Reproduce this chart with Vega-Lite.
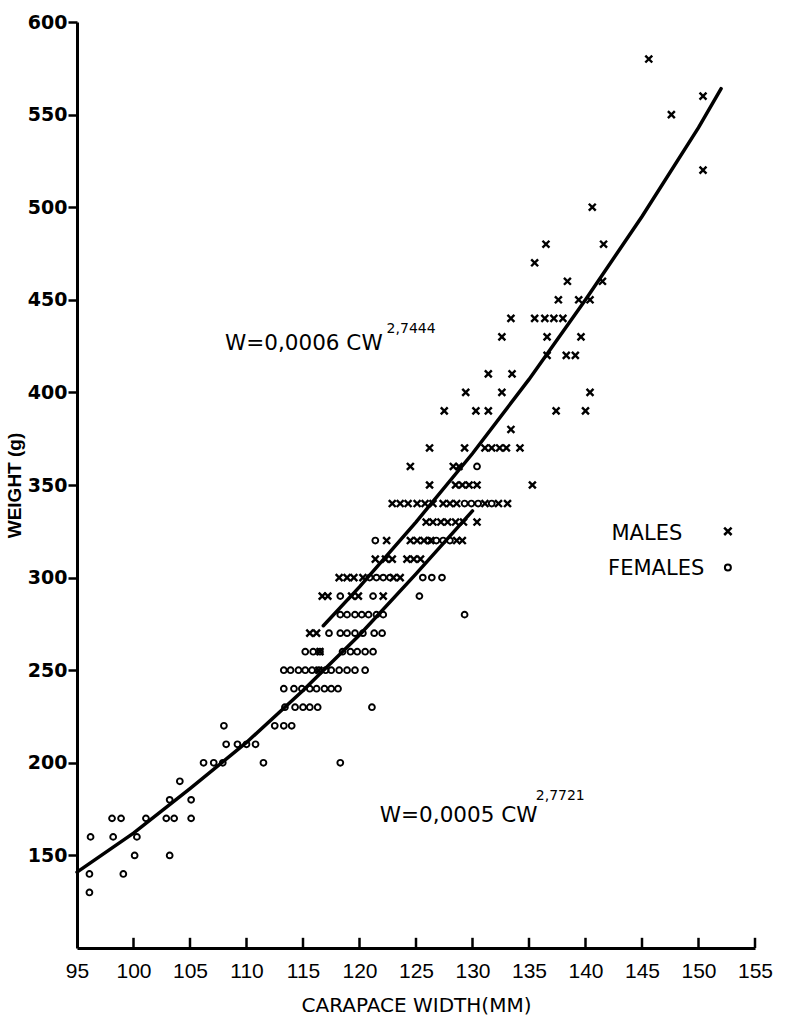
{
  "$schema": "https://vega.github.io/schema/vega-lite/v6.json",
  "width": 678,
  "height": 926,
  "autosize": {"type": "none"},
  "padding": {"left": 77, "top": 22, "right": 37, "bottom": 69},
  "background": "white",
  "config": {"view": {"stroke": null}, "axis": {"grid": false, "domainColor": "black", "tickColor": "black", "labelColor": "black", "titleColor": "black"}},
  "datasets": {
    "points": [
      {"cw":96.1,"w":130,"sex":"F"},{"cw":96.1,"w":140,"sex":"F"},{"cw":96.2,"w":160,"sex":"F"},{"cw":98.1,"w":170,"sex":"F"},{"cw":98.9,"w":170,"sex":"F"},{"cw":98.2,"w":160,"sex":"F"},{"cw":99.1,"w":140,"sex":"F"},{"cw":100.1,"w":150,"sex":"F"},{"cw":100.3,"w":160,"sex":"F"},{"cw":101.1,"w":170,"sex":"F"},{"cw":102.9,"w":170,"sex":"F"},{"cw":103.6,"w":170,"sex":"F"},{"cw":103.2,"w":180,"sex":"F"},{"cw":103.2,"w":150,"sex":"F"},{"cw":104.1,"w":190,"sex":"F"},{"cw":105.1,"w":180,"sex":"F"},{"cw":105.1,"w":170,"sex":"F"},{"cw":106.2,"w":200,"sex":"F"},{"cw":107.1,"w":200,"sex":"F"},{"cw":107.9,"w":200,"sex":"F"},{"cw":108.0,"w":220,"sex":"F"},{"cw":108.2,"w":210,"sex":"F"},{"cw":109.2,"w":210,"sex":"F"},{"cw":110.0,"w":210,"sex":"F"},{"cw":110.8,"w":210,"sex":"F"},{"cw":111.5,"w":200,"sex":"F"},{"cw":118.3,"w":200,"sex":"F"},{"cw":112.5,"w":220,"sex":"F"},{"cw":113.3,"w":220,"sex":"F"},{"cw":114.0,"w":220,"sex":"F"},
      {"cw":113.4,"w":230,"sex":"F"},{"cw":114.3,"w":230,"sex":"F"},{"cw":115.0,"w":230,"sex":"F"},{"cw":115.6,"w":230,"sex":"F"},{"cw":116.3,"w":230,"sex":"F"},{"cw":121.1,"w":230,"sex":"F"},
      {"cw":113.3,"w":240,"sex":"F"},{"cw":114.2,"w":240,"sex":"F"},{"cw":114.9,"w":240,"sex":"F"},{"cw":115.6,"w":240,"sex":"F"},{"cw":116.2,"w":240,"sex":"F"},{"cw":116.9,"w":240,"sex":"F"},{"cw":117.5,"w":240,"sex":"F"},{"cw":118.1,"w":240,"sex":"F"},
      {"cw":113.3,"w":250,"sex":"F"},{"cw":113.9,"w":250,"sex":"F"},{"cw":114.6,"w":250,"sex":"F"},{"cw":115.2,"w":250,"sex":"F"},{"cw":115.8,"w":250,"sex":"F"},{"cw":116.4,"w":250,"sex":"F"},{"cw":117.0,"w":250,"sex":"F"},{"cw":117.5,"w":250,"sex":"F"},{"cw":118.2,"w":250,"sex":"F"},{"cw":118.9,"w":250,"sex":"F"},{"cw":119.6,"w":250,"sex":"F"},{"cw":120.5,"w":250,"sex":"F"},
      {"cw":115.2,"w":260,"sex":"F"},{"cw":115.9,"w":260,"sex":"F"},{"cw":116.5,"w":260,"sex":"F"},{"cw":118.5,"w":260,"sex":"F"},{"cw":119.2,"w":260,"sex":"F"},{"cw":119.8,"w":260,"sex":"F"},{"cw":120.5,"w":260,"sex":"F"},{"cw":121.2,"w":260,"sex":"F"},
      {"cw":117.3,"w":270,"sex":"F"},{"cw":118.3,"w":270,"sex":"F"},{"cw":118.9,"w":270,"sex":"F"},{"cw":119.6,"w":270,"sex":"F"},{"cw":120.3,"w":270,"sex":"F"},{"cw":121.3,"w":270,"sex":"F"},{"cw":122.0,"w":270,"sex":"F"},
      {"cw":118.3,"w":280,"sex":"F"},{"cw":118.9,"w":280,"sex":"F"},{"cw":119.6,"w":280,"sex":"F"},{"cw":120.2,"w":280,"sex":"F"},{"cw":120.8,"w":280,"sex":"F"},{"cw":121.5,"w":280,"sex":"F"},{"cw":122.1,"w":280,"sex":"F"},{"cw":129.3,"w":280,"sex":"F"},
      {"cw":118.3,"w":290,"sex":"F"},{"cw":121.2,"w":290,"sex":"F"},{"cw":125.3,"w":290,"sex":"F"},
      {"cw":120.9,"w":300,"sex":"F"},{"cw":121.5,"w":300,"sex":"F"},{"cw":122.1,"w":300,"sex":"F"},{"cw":122.7,"w":300,"sex":"F"},{"cw":125.6,"w":300,"sex":"F"},{"cw":126.4,"w":300,"sex":"F"},{"cw":127.3,"w":300,"sex":"F"},
      {"cw":121.4,"w":320,"sex":"F"},{"cw":126.1,"w":320,"sex":"F"},{"cw":126.8,"w":320,"sex":"F"},{"cw":127.4,"w":320,"sex":"F"},{"cw":128.0,"w":320,"sex":"F"},
      {"cw":129.3,"w":340,"sex":"F"},{"cw":129.9,"w":340,"sex":"F"},{"cw":130.5,"w":340,"sex":"F"},{"cw":131.7,"w":340,"sex":"F"},
      {"cw":130.4,"w":360,"sex":"F"},
      {"cw":116.4,"w":250,"sex":"M"},{"cw":116.5,"w":260,"sex":"M"},
      {"cw":115.6,"w":270,"sex":"M"},{"cw":116.2,"w":270,"sex":"M"},
      {"cw":116.7,"w":290,"sex":"M"},{"cw":117.2,"w":290,"sex":"M"},{"cw":119.3,"w":290,"sex":"M"},{"cw":119.9,"w":290,"sex":"M"},{"cw":122.1,"w":290,"sex":"M"},
      {"cw":118.2,"w":300,"sex":"M"},{"cw":118.9,"w":300,"sex":"M"},{"cw":119.5,"w":300,"sex":"M"},{"cw":120.3,"w":300,"sex":"M"},{"cw":123.0,"w":300,"sex":"M"},{"cw":123.6,"w":300,"sex":"M"},
      {"cw":121.4,"w":310,"sex":"M"},{"cw":122.3,"w":310,"sex":"M"},{"cw":122.9,"w":310,"sex":"M"},{"cw":124.2,"w":310,"sex":"M"},{"cw":124.8,"w":310,"sex":"M"},{"cw":125.4,"w":310,"sex":"M"},
      {"cw":122.4,"w":320,"sex":"M"},{"cw":124.5,"w":320,"sex":"M"},{"cw":125.1,"w":320,"sex":"M"},{"cw":125.7,"w":320,"sex":"M"},{"cw":126.3,"w":320,"sex":"M"},{"cw":128.6,"w":320,"sex":"M"},{"cw":129.1,"w":320,"sex":"M"},
      {"cw":125.9,"w":330,"sex":"M"},{"cw":126.5,"w":330,"sex":"M"},{"cw":127.2,"w":330,"sex":"M"},{"cw":127.8,"w":330,"sex":"M"},{"cw":128.5,"w":330,"sex":"M"},{"cw":129.2,"w":330,"sex":"M"},{"cw":130.4,"w":330,"sex":"M"},
      {"cw":122.9,"w":340,"sex":"M"},{"cw":123.6,"w":340,"sex":"M"},{"cw":124.3,"w":340,"sex":"M"},{"cw":125.1,"w":340,"sex":"M"},{"cw":125.8,"w":340,"sex":"M"},{"cw":126.5,"w":340,"sex":"M"},{"cw":127.4,"w":340,"sex":"M"},{"cw":128.0,"w":340,"sex":"M"},{"cw":128.6,"w":340,"sex":"M"},{"cw":131.1,"w":340,"sex":"M"},{"cw":132.3,"w":340,"sex":"M"},{"cw":133.1,"w":340,"sex":"M"},
      {"cw":126.2,"w":350,"sex":"M"},{"cw":128.5,"w":350,"sex":"M"},{"cw":129.1,"w":350,"sex":"M"},{"cw":129.7,"w":350,"sex":"M"},{"cw":130.4,"w":350,"sex":"M"},{"cw":135.3,"w":350,"sex":"M"},
      {"cw":124.5,"w":360,"sex":"M"},{"cw":128.3,"w":360,"sex":"M"},{"cw":128.8,"w":360,"sex":"M"},
      {"cw":126.2,"w":370,"sex":"M"},{"cw":129.3,"w":370,"sex":"M"},{"cw":131.1,"w":370,"sex":"M"},{"cw":131.7,"w":370,"sex":"M"},{"cw":132.4,"w":370,"sex":"M"},{"cw":133.0,"w":370,"sex":"M"},{"cw":134.2,"w":370,"sex":"M"},
      {"cw":133.4,"w":380,"sex":"M"},
      {"cw":127.5,"w":390,"sex":"M"},{"cw":130.3,"w":390,"sex":"M"},{"cw":131.4,"w":390,"sex":"M"},{"cw":137.4,"w":390,"sex":"M"},{"cw":140.0,"w":390,"sex":"M"},
      {"cw":129.4,"w":400,"sex":"M"},{"cw":132.6,"w":400,"sex":"M"},{"cw":140.4,"w":400,"sex":"M"},
      {"cw":131.4,"w":410,"sex":"M"},{"cw":133.5,"w":410,"sex":"M"},
      {"cw":136.6,"w":420,"sex":"M"},{"cw":138.3,"w":420,"sex":"M"},{"cw":139.1,"w":420,"sex":"M"},
      {"cw":132.6,"w":430,"sex":"M"},{"cw":136.6,"w":430,"sex":"M"},{"cw":139.6,"w":430,"sex":"M"},
      {"cw":133.4,"w":440,"sex":"M"},{"cw":135.5,"w":440,"sex":"M"},{"cw":136.4,"w":440,"sex":"M"},{"cw":137.2,"w":440,"sex":"M"},{"cw":138.0,"w":440,"sex":"M"},
      {"cw":137.6,"w":450,"sex":"M"},{"cw":139.4,"w":450,"sex":"M"},{"cw":140.4,"w":450,"sex":"M"},
      {"cw":138.4,"w":460,"sex":"M"},{"cw":141.5,"w":460,"sex":"M"},
      {"cw":135.5,"w":470,"sex":"M"},
      {"cw":136.5,"w":480,"sex":"M"},{"cw":141.6,"w":480,"sex":"M"},
      {"cw":140.6,"w":500,"sex":"M"},
      {"cw":150.4,"w":520,"sex":"M"},
      {"cw":147.6,"w":550,"sex":"M"},
      {"cw":150.4,"w":560,"sex":"M"},
      {"cw":145.6,"w":580,"sex":"M"}
    ],
    "curves": [
      {"cw":95,"w":141,"sex":"F"},{"cw":100,"w":162,"sex":"F"},{"cw":105,"w":186,"sex":"F"},{"cw":110,"w":211,"sex":"F"},{"cw":115,"w":239,"sex":"F"},{"cw":120,"w":269,"sex":"F"},{"cw":125,"w":302,"sex":"F"},{"cw":130,"w":336,"sex":"F"},
      {"cw":116.8,"w":274,"sex":"M"},{"cw":120,"w":295,"sex":"M"},{"cw":125,"w":330,"sex":"M"},{"cw":130,"w":367,"sex":"M"},{"cw":135,"w":407,"sex":"M"},{"cw":140,"w":450,"sex":"M"},{"cw":145,"w":495,"sex":"M"},{"cw":150,"w":543,"sex":"M"},{"cw":152,"w":564,"sex":"M"}
    ],
    "xticks": [{"cw":100},{"cw":105},{"cw":110},{"cw":115},{"cw":120},{"cw":125},{"cw":130},{"cw":135},{"cw":140},{"cw":145},{"cw":150},{"cw":155}]
  },
  "layer": [
    {
      "data": {"name": "curves"},
      "mark": {"type": "line", "color": "black", "strokeWidth": 3.5, "strokeCap": "round"},
      "encoding": {
        "x": {"field": "cw", "type": "quantitative", "scale": {"domain": [95, 155], "nice": false, "zero": false},
          "axis": {"values": [95,100,105,110,115,120,125,130,135,140,145,150,155], "title": "CARAPACE WIDTH(MM)", "domainWidth": 3, "ticks": false, "labelPadding": 12, "labelFont": "Liberation Sans", "labelFontSize": 21, "labelFlush": false, "labelOverlap": false, "titleFont": "DejaVu Sans", "titleFontSize": 20, "titleFontWeight": "normal", "titlePadding": 14}},
        "y": {"field": "w", "type": "quantitative", "scale": {"domain": [100, 600], "nice": false, "zero": false},
          "axis": {"values": [150,200,250,300,350,400,450,500,550,600], "title": "WEIGHT (g)", "domainWidth": 3, "tickWidth": 2.5, "tickSize": 9, "labelPadding": 1, "labelFont": "DejaVu Sans", "labelFontSize": 19, "labelFontWeight": "bold", "labelFlush": false, "labelOverlap": false, "titleFont": "Liberation Sans", "titleFontSize": 19, "titleFontWeight": "bold", "titlePadding": 3}},
        "detail": {"field": "sex"}
      }
    },
    {
      "data": {"name": "xticks"},
      "mark": {"type": "rule", "color": "black", "strokeWidth": 2.5},
      "encoding": {"x": {"field": "cw", "type": "quantitative"}, "y": {"datum": 100}, "y2": {"datum": 105.5}}
    },
    {
      "data": {"name": "points"},
      "mark": {"type": "point", "filled": false, "color": "black", "opacity": 1},
      "encoding": {
        "x": {"field": "cw", "type": "quantitative"},
        "y": {"field": "w", "type": "quantitative"},
        "shape": {"field": "sex", "type": "nominal", "scale": {"domain": ["M", "F"], "range": ["M-1,-1L1,1M1,-1L-1,1", "circle"]}, "legend": null},
        "size": {"field": "sex", "type": "nominal", "scale": {"domain": ["M", "F"], "range": [48, 34]}, "legend": null},
        "strokeWidth": {"field": "sex", "type": "nominal", "scale": {"domain": ["M", "F"], "range": [2.4, 1.9]}, "legend": null}
      }
    },
    {
      "data": {"values": [{"t": "W=0,0006 CW"}]},
      "mark": {"type": "text", "align": "left", "baseline": "alphabetic", "font": "DejaVu Sans", "fontSize": 21.5, "color": "black"},
      "encoding": {"x": {"datum": 108.1}, "y": {"datum": 423}, "text": {"field": "t"}}
    },
    {
      "data": {"values": [{"t": "2,7444"}]},
      "mark": {"type": "text", "align": "left", "baseline": "alphabetic", "font": "DejaVu Sans", "fontSize": 14, "color": "black"},
      "encoding": {"x": {"datum": 122.4}, "y": {"datum": 432}, "text": {"field": "t"}}
    },
    {
      "data": {"values": [{"t": "W=0,0005 CW"}]},
      "mark": {"type": "text", "align": "left", "baseline": "alphabetic", "font": "DejaVu Sans", "fontSize": 21.5, "color": "black"},
      "encoding": {"x": {"datum": 121.8}, "y": {"datum": 168}, "text": {"field": "t"}}
    },
    {
      "data": {"values": [{"t": "2,7721"}]},
      "mark": {"type": "text", "align": "left", "baseline": "alphabetic", "font": "DejaVu Sans", "fontSize": 14, "color": "black"},
      "encoding": {"x": {"datum": 135.6}, "y": {"datum": 180}, "text": {"field": "t"}}
    },
    {
      "data": {"values": [{"t": "MALES"}]},
      "mark": {"type": "text", "align": "left", "baseline": "alphabetic", "font": "DejaVu Sans", "fontSize": 21, "color": "black"},
      "encoding": {"x": {"datum": 142.3}, "y": {"datum": 320.5}, "text": {"field": "t"}}
    },
    {
      "data": {"values": [{"t": "FEMALES"}]},
      "mark": {"type": "text", "align": "left", "baseline": "alphabetic", "font": "DejaVu Sans", "fontSize": 21, "color": "black"},
      "encoding": {"x": {"datum": 142.0}, "y": {"datum": 301.6}, "text": {"field": "t"}}
    },
    {
      "data": {"values": [{"sex": "M"}]},
      "mark": {"type": "point", "filled": false, "color": "black", "opacity": 1, "shape": "M-1,-1L1,1M1,-1L-1,1", "size": 55, "strokeWidth": 2.5},
      "encoding": {"x": {"datum": 152.6}, "y": {"datum": 325}}
    },
    {
      "data": {"values": [{"sex": "F"}]},
      "mark": {"type": "point", "filled": false, "color": "black", "opacity": 1, "shape": "circle", "size": 36, "strokeWidth": 2},
      "encoding": {"x": {"datum": 152.6}, "y": {"datum": 305.4}}
    }
  ]
}
